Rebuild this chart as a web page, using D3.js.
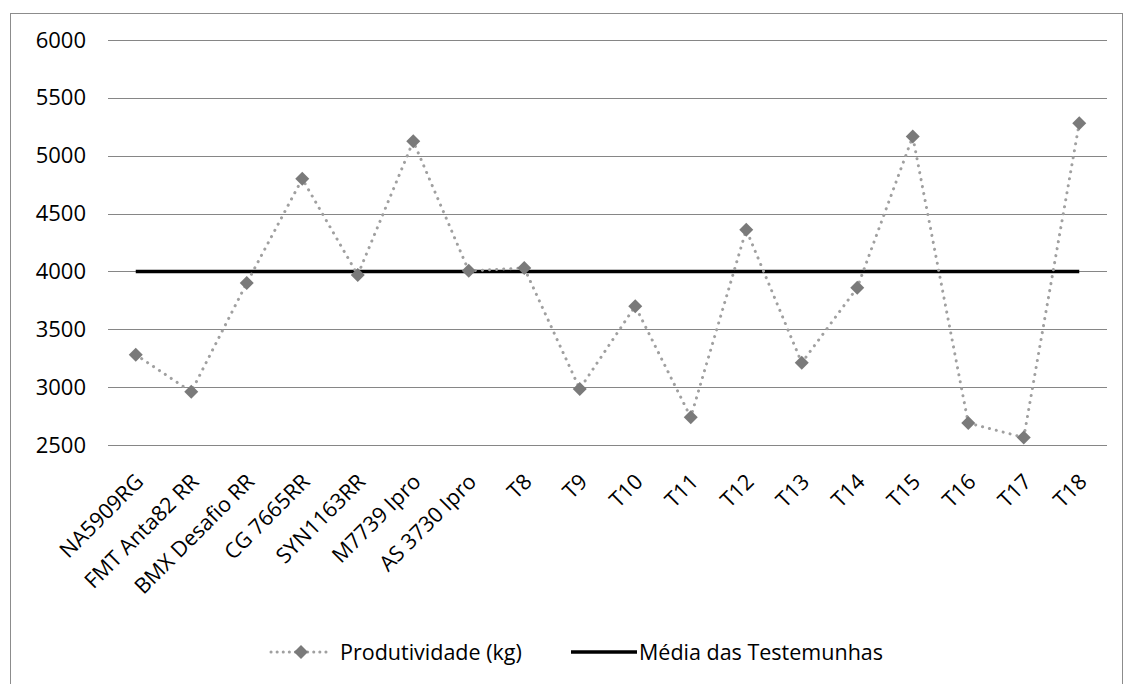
<!DOCTYPE html>
<html><head><meta charset="utf-8">
<script src="https://cdn.jsdelivr.net/npm/d3@7"></script>
<style>body{margin:0;background:#fff;} text{font-family:"Open Sans","Liberation Sans",sans-serif;}</style>
</head><body>
<svg id="c" width="1124" height="684"></svg>
<script>
const categories = ["NA5909RG","FMT Anta82 RR","BMX Desafio RR","CG 7665RR","SYN1163RR","M7739 Ipro","AS 3730 Ipro","T8","T9","T10","T11","T12","T13","T14","T15","T16","T17","T18"];
const produtividade = [3280,2960,3900,4800,3970,5125,4005,4030,2985,3700,2740,4360,3210,3860,5165,2690,2565,5280];
const mediaTestemunhas = [4000,4000,4000,4000,4000,4000,4000,4000,4000,4000,4000,4000,4000,4000,4000,4000,4000,4000];
const yTicks = [2500,3000,3500,4000,4500,5000,5500,6000];
const seriesNames = ["Produtividade (kg)","Média das Testemunhas"];

const svg = d3.select("#c");
svg.append("rect").attr("x",10.5).attr("y",13.5).attr("width",1112).attr("height",680)
  .attr("fill","#fff").attr("stroke","#8c8c8c");

const x = d3.scaleBand().domain(categories).range([108,1107]);
const y = d3.scaleLinear().domain([2500,6000]).range([445,40]);
const cx = d => x(d)+x.bandwidth()/2;

// grid
svg.append("g").selectAll("line").data(yTicks).join("line")
  .attr("x1",108).attr("x2",1107).attr("y1",d=>Math.round(y(d))+0.5).attr("y2",d=>Math.round(y(d))+0.5)
  .attr("stroke","#868686").attr("stroke-width",1);

// y axis labels
const yAxis = d3.axisLeft(y).tickValues(yTicks).tickSize(0).tickPadding(0).tickFormat(d3.format("d"));
const ga = svg.append("g").attr("transform","translate(86,0)").call(yAxis);
ga.select(".domain").remove();
ga.selectAll("text").attr("font-size",22).attr("fill","#000").attr("font-family","'Open Sans',sans-serif");

// x labels
const xAxis = d3.axisBottom(x).tickSize(0).tickPadding(0);
const gx = svg.append("g").attr("transform","translate(0,455)").call(xAxis);
gx.select(".domain").remove();
gx.selectAll("text").attr("font-size",21.5).attr("fill","#000").attr("font-family","'Open Sans',sans-serif")
  .attr("text-anchor","end").attr("dy",0)
  .attr("transform","translate(9,28) rotate(-45)");

// mean line
svg.append("path").datum(mediaTestemunhas.map((v,i)=>[categories[i],v]))
  .attr("d",d3.line().x(d=>cx(d[0])).y(d=>y(d[1])))
  .attr("fill","none").attr("stroke","#000").attr("stroke-width",3.5);

// productivity dotted line
const pts = produtividade.map((v,i)=>[categories[i],v]);
svg.append("path").datum(pts)
  .attr("d",d3.line().x(d=>cx(d[0])).y(d=>y(d[1])))
  .attr("fill","none").attr("stroke","#a0a0a0").attr("stroke-width",3)
  .attr("stroke-linecap","round").attr("stroke-dasharray","0.1,7");

const diamond = d3.symbol().type(d3.symbolDiamond2).size(125);
svg.append("g").selectAll("path").data(pts).join("path")
  .attr("d",diamond).attr("transform",d=>`translate(${cx(d[0])},${y(d[1])})`)
  .attr("fill","#7a7a7a");

// legend
const ly = 652;
const lg = svg.append("g");
lg.append("line").attr("x1",271).attr("x2",327).attr("y1",ly).attr("y2",ly)
  .attr("stroke","#a0a0a0").attr("stroke-width",3).attr("stroke-linecap","round").attr("stroke-dasharray","0.1,6");
lg.append("path").attr("d",diamond).attr("transform",`translate(301,${ly})`).attr("fill","#7a7a7a");
lg.append("text").attr("x",340).attr("y",ly+8).attr("font-size",21.5).text(seriesNames[0]);
lg.append("line").attr("x1",571).attr("x2",637).attr("y1",ly).attr("y2",ly)
  .attr("stroke","#000").attr("stroke-width",3.5);
lg.append("text").attr("x",639).attr("y",ly+8).attr("font-size",21.5).text(seriesNames[1]);
</script>
</body></html>
